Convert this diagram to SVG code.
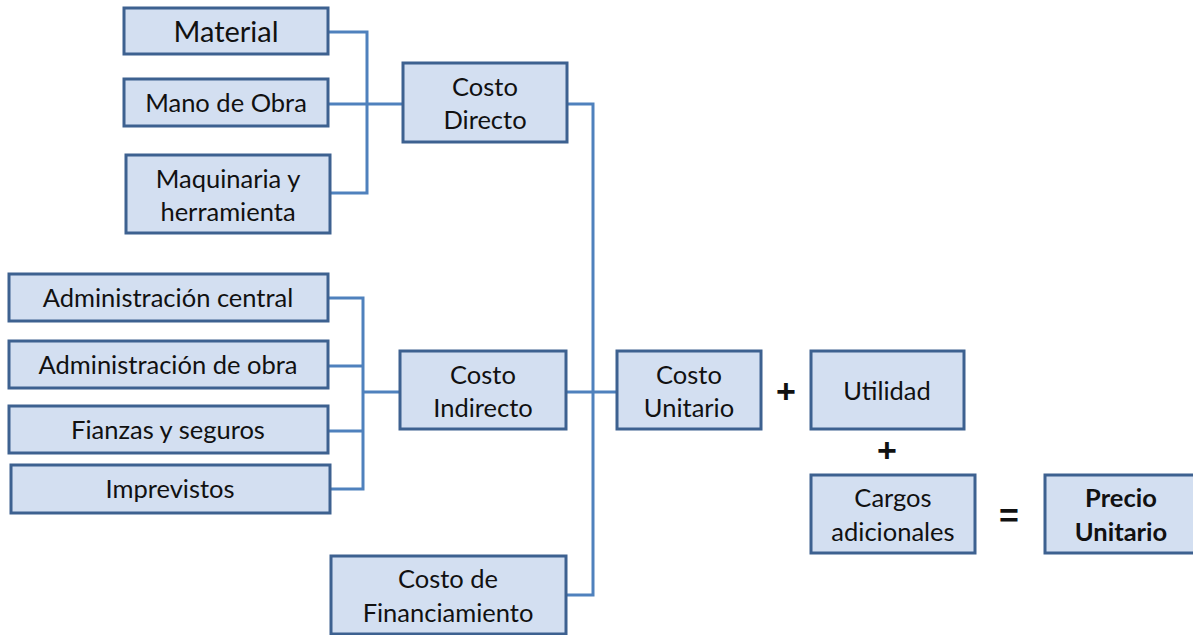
<svg xmlns="http://www.w3.org/2000/svg" width="1193" height="635" viewBox="0 0 1193 635">
<style>
.box{fill:#d3dff1;stroke:#3d6190;stroke-width:3}
.t{font-family:Lato,"Liberation Sans",sans-serif;font-size:25.5px;fill:#111;text-anchor:middle}
.big{font-size:29px}
.b{font-weight:bold}
.op{font-family:"Liberation Sans",sans-serif;font-size:34px;font-weight:bold;fill:#111;text-anchor:middle}
.c{fill:none;stroke:#4f81bd;stroke-width:3}
</style>
<rect width="1193" height="635" fill="#fff"/>
<g id="connectors">
<path class="c" d="M328 32H367V193H330M328 104H403M567 104H593V595H566M565 392H617"/>
<path class="c" d="M328 298H363V489H330M328 366H363M328 431H363M363 392H400"/>
</g>
<g id="material"><rect class="box" x="124" y="8" width="204" height="46"/><text class="t big" x="226" y="42">Material</text></g>
<g id="mano"><rect class="box" x="124" y="79" width="204" height="47"/><text class="t" x="226" y="112">Mano de Obra</text></g>
<g id="maquinaria"><rect class="box" x="126" y="155" width="204" height="78"/><text class="t" x="228" y="188">Maquinaria y</text><text class="t" x="228" y="221">herramienta</text></g>
<g id="costo-directo"><rect class="box" x="403" y="63" width="164" height="79"/><text class="t" x="485" y="96">Costo</text><text class="t" x="485" y="129">Directo</text></g>
<g id="admin-central"><rect class="box" x="9" y="274" width="319" height="47"/><text class="t" x="168" y="307">Administración central</text></g>
<g id="admin-obra"><rect class="box" x="9" y="341" width="319" height="47"/><text class="t" x="168" y="374">Administración de obra</text></g>
<g id="fianzas"><rect class="box" x="9" y="406" width="319" height="47"/><text class="t" x="168" y="439">Fianzas y seguros</text></g>
<g id="imprevistos"><rect class="box" x="11" y="465" width="319" height="48"/><text class="t" x="170" y="498">Imprevistos</text></g>
<g id="costo-indirecto"><rect class="box" x="400" y="351" width="166" height="78"/><text class="t" x="483" y="384">Costo</text><text class="t" x="483" y="417">Indirecto</text></g>
<g id="costo-financiamiento"><rect class="box" x="331" y="556" width="235" height="78"/><text class="t" x="448" y="588">Costo de</text><text class="t" x="448" y="622">Financiamiento</text></g>
<g id="costo-unitario"><rect class="box" x="617" y="351" width="144" height="78"/><text class="t" x="689" y="384">Costo</text><text class="t" x="689" y="417">Unitario</text></g>
<g id="utilidad"><rect class="box" x="811" y="351" width="153" height="78"/><text class="t" x="887" y="400">Utilidad</text></g>
<g id="cargos"><rect class="box" x="811" y="475" width="164" height="78"/><text class="t" x="893" y="507">Cargos</text><text class="t" x="893" y="541">adicionales</text></g>
<g id="precio-unitario"><rect class="box" x="1045" y="475" width="150" height="78"/><text class="t b" x="1121" y="507">Precio</text><text class="t b" x="1121" y="541">Unitario</text></g>
<text class="op" x="786" y="403">+</text>
<text class="op" x="887" y="462">+</text>
<text class="op" x="1009" y="527">=</text>
</svg>
